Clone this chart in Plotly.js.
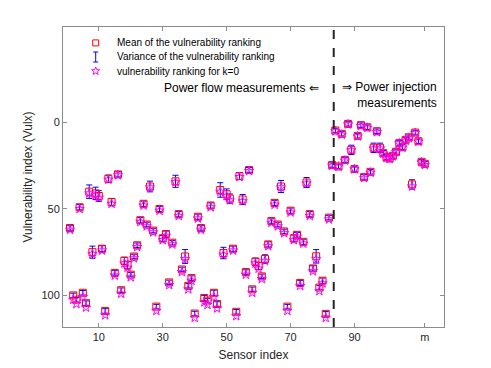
<!DOCTYPE html>
<html>
<head>
<meta charset="utf-8">
<script src="https://cdn.plot.ly/plotly-3.0.1.min.js"></script>
<style>
  html, body { margin: 0; padding: 0; background: #fff; }
  #chart { width: 491px; height: 368px; }
</style>
</head>
<body>
<div id="chart"></div>
<script>
// mean vulnerability ranking per sensor (1..m)
const meanRank = [61,100,102.5,49,98.5,104.5,40,75,41,42.5,
  73,109,32.5,46,87,30,97,80,82.5,88,
  77.5,71,56.5,47,59,37,62.5,106.5,50,67,
  64.5,92.5,69.5,34,53,85,77.5,94.5,90,110.5,
  54.5,61,101.5,103,48,98.5,105,39,75.5,41.5,
  44,73,109.5,31,44.5,86.5,27.5,96.5,80.5,83,
  89,79,70.5,57,46.5,59,37,63,106.5,51,
  67,65,92.8,69,34.7,53,84.4,77.4,95.5,91.5,
  110.7,55,24.6,4.6,25.4,6.5,21.6,0.8,15.8,26.9,
  7.7,1.5,31.6,2.7,28.5,14.6,5,14.6,17.7,20,
  20.8,19.2,16.9,11.9,14.2,10,8.5,35.8,5.8,10.8,22.7,23.9];

// half-height of the variance bars
const varRank = [1.3,1.3,1.3,1.5,1.3,1.3,3.9,3.5,3.6,3.1,
  1.7,1.3,2.1,2.1,1.3,1.5,1.3,2.1,2.3,1.3,
  1.3,1.3,1.5,1.5,1.3,3.1,1.3,1.3,1.5,1.7,
  1.7,1.3,1.3,3.5,1.5,1.3,4,1.3,1.3,1.3,
  1.5,1.3,1.5,1.3,1.5,1.5,1.3,4.2,3.3,3.1,
  2.7,1.5,1.3,2,2.9,1.3,1.5,1.3,2.1,2,
  1.3,2.5,1.5,1.3,1.5,1.3,3.5,1.3,1.3,1.5,
  2,1.3,1.5,1.5,2.9,1.5,1.5,3.9,1.3,1.5,
  1.3,1.3,1.3,1.3,1.3,1.3,1.5,1.3,2.7,1.3,
  1.3,1.3,1.5,1.3,1.3,2.7,1.3,2.7,1.5,1.5,
  1.5,1.5,1.5,1.5,1.5,1.3,1.3,2.7,1.3,1.3,1.3,1.3];

// ranking for k=0
const rankK0 = [62,102.5,105,50,101,107,41,76,42,43.5,
  74,111.5,33,47,88.5,30.5,99,81.5,84,89.5,
  78.5,72,57.5,48,60,37.5,63.5,109,51,68,
  65.5,94,70.5,34.5,54,86.5,79,96.5,91.5,113,
  55.5,62,104,105.5,49,101,107.5,40,76.5,42.5,
  45,74,112,31.5,45.5,88,28,98.5,81.5,84.5,
  90.5,80,71.5,58,47.5,60,37.5,64,109,52,
  68,66,94.5,70,35.2,54,86,79,97.5,93,
  113,56,25,5,25.5,7,22,1,16,27,
  8,2,32,3,29,15,5.5,15,18,20.5,
  21,19.5,17,12,14.5,10.5,9,37,6,11,23,24.5];

const sensorIdx = meanRank.map((_, i) => i + 1);
const xTicks = [10, 30, 50, 70, 90, 112];
const xTickText = ["10", "30", "50", "70", "90", "m"];
const yTicks = [0, 50, 100];
const splitAt = 83.5; // boundary flow / injection
const legendLabels = [
  "Mean of the vulnerability ranking",
  "Variance of the vulnerability ranking",
  "vulnerability ranking for k=0"
];

const font = "Liberation Sans, Arial, Helvetica, sans-serif";

const traces = [
  {
    x: sensorIdx, y: meanRank, type: "scatter", mode: "markers",
    marker: { color: "rgba(0,0,0,0)", size: 0.1 },
    error_y: { type: "data", array: varRank, color: "#0000ff", thickness: 1, width: 3 },
    hoverinfo: "skip"
  },
  {
    x: sensorIdx, y: meanRank, type: "scatter", mode: "markers",
    marker: { symbol: "square-open", color: "#ff0000", size: 7, line: { width: 1 } }
  },
  {
    x: sensorIdx, y: rankK0, type: "scatter", mode: "markers",
    marker: { symbol: "star-open", color: "#ff00ff", size: 7, line: { width: 1 } }
  }
];

// hand-made legend (MATLAB style, tight rows)
const legX = 0.0858, legTextX = 0.1357;
const legY = [0.947, 0.900, 0.853];

function starPath(r1, r2) {
  let p = "";
  for (let k = 0; k < 10; k++) {
    const r = k % 2 ? r2 : r1;
    const a = Math.PI / 2 + k * Math.PI / 5;
    p += (k ? "L" : "M") + (r * Math.cos(a)).toFixed(2) + "," + (r * Math.sin(a)).toFixed(2);
  }
  return p + "Z";
}

const legShapes = [
  { type: "rect", xref: "paper", yref: "paper", xsizemode: "pixel", ysizemode: "pixel",
    xanchor: legX, yanchor: legY[0], x0: -3, x1: 3, y0: -3, y1: 3,
    line: { color: "#ff0000", width: 1 } },
  { type: "path", xref: "paper", yref: "paper", xsizemode: "pixel", ysizemode: "pixel",
    xanchor: legX, yanchor: legY[1],
    path: "M0,-5L0,5M-2.5,5L2.5,5M-2.5,-5L2.5,-5",
    line: { color: "#0000ff", width: 1 } },
  { type: "path", xref: "paper", yref: "paper", xsizemode: "pixel", ysizemode: "pixel",
    xanchor: legX, yanchor: legY[2], path: starPath(4.2, 1.8),
    line: { color: "#ff00ff", width: 1 } }
];

const legText = legendLabels.map((t, i) => ({
  xref: "paper", yref: "paper", x: legTextX, y: legY[i],
  xanchor: "left", yanchor: "middle", text: t, showarrow: false,
  font: { size: 10, color: "#000" }
}));

const layout = {
  width: 491, height: 368,
  margin: { l: 63, r: 47, t: 27, b: 41 },
  paper_bgcolor: "#fff", plot_bgcolor: "#fff",
  font: { family: font, size: 11, color: "#262626" },
  showlegend: false,
  xaxis: {
    range: [-1.2, 118], tickvals: xTicks, ticktext: xTickText,
    showline: true, linecolor: "#8c8c8c", linewidth: 1, mirror: "ticks",
    ticks: "inside", ticklen: 4, tickcolor: "#8c8c8c",
    showgrid: false, zeroline: false,
    title: { text: "Sensor index", font: { size: 12 }, standoff: 8 }
  },
  yaxis: {
    range: [118.3, -55.3], tickvals: yTicks,
    showline: true, linecolor: "#8c8c8c", linewidth: 1, mirror: "ticks",
    ticks: "inside", ticklen: 4, tickcolor: "#8c8c8c",
    showgrid: false, zeroline: false,
    title: { text: "Vulnerability index (Vulx)", font: { size: 12 }, standoff: 6 }
  },
  shapes: [{
    type: "line", xref: "x", yref: "paper", x0: splitAt, x1: splitAt, y0: 0, y1: 1,
    line: { color: "#262626", width: 2, dash: "dash" }
  }].concat(legShapes),
  annotations: [
    {
      xref: "x", yref: "y", x: 79.5, y: -20, xanchor: "right", yanchor: "middle",
      text: "Power flow measurements \u21D0", showarrow: false,
      font: { size: 12, color: "#000" }
    },
    {
      xref: "x", yref: "y", x: 116.5, y: -16, xanchor: "right", yanchor: "middle",
      align: "right", text: "\u21D2 Power injection<br>measurements", showarrow: false,
      font: { size: 12, color: "#000" }
    }
  ].concat(legText)
};

Plotly.newPlot("chart", traces, layout, { displayModeBar: false, staticPlot: true });
</script>
</body>
</html>
